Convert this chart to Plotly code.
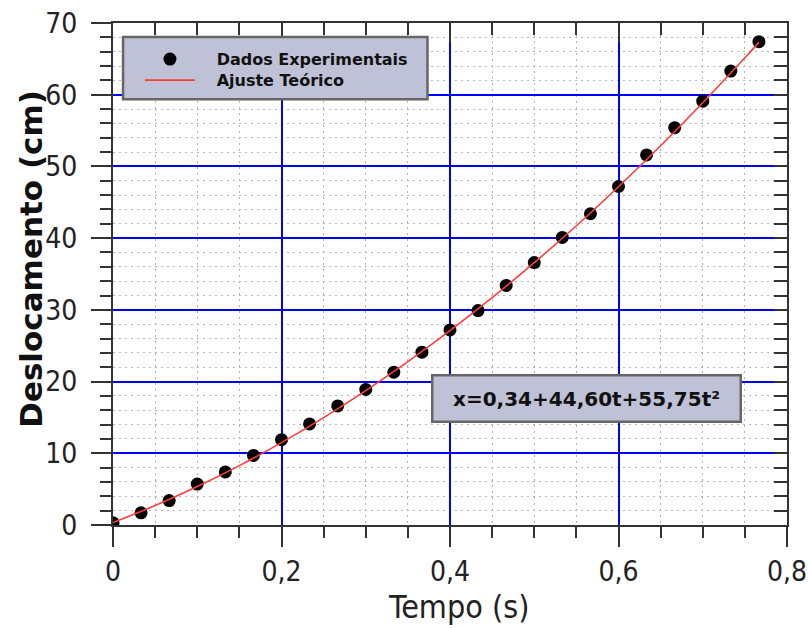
import plotly.graph_objects as go

# ---- data ----
t_data = [0.0, 0.0333, 0.0667, 0.1, 0.1333, 0.1667, 0.2, 0.2333, 0.2667, 0.3,
          0.3333, 0.3667, 0.4, 0.4333, 0.4667, 0.5, 0.5333, 0.5667, 0.6, 0.6333,
          0.6667, 0.7, 0.7333, 0.7667]
x_data = [0.3, 1.7, 3.4, 5.7, 7.4, 9.7, 11.9, 14.1, 16.6, 18.9,
          21.3, 24.1, 27.2, 29.9, 33.4, 36.6, 40.1, 43.4, 47.2, 51.6,
          55.4, 59.1, 63.3, 67.4]
t_fit = [0.0, 0.05, 0.1, 0.15, 0.2, 0.25, 0.3, 0.35, 0.4, 0.45, 0.5, 0.55,
         0.6, 0.65, 0.7, 0.75, 0.7667]
x_fit = [0.34, 2.71, 5.36, 8.28, 11.49, 14.97, 18.74, 22.78, 27.10, 31.70,
         36.58, 41.73, 47.17, 52.88, 58.88, 65.15, 67.30]

x_ticks = [0, 0.2, 0.4, 0.6, 0.8]
x_tick_labels = ["0", "0,2", "0,4", "0,6", "0,8"]
y_ticks = [0, 10, 20, 30, 40, 50, 60, 70]
y_tick_labels = ["0", "10", "20", "30", "40", "50", "60", "70"]

legend_names = ["\u00a0\u00a0\u00a0Dados Experimentais", "\u00a0\u00a0\u00a0Ajuste Teórico"]
equation_text = "x=0,34+44,60t+55,75t²"
x_title = "Tempo (s)"
y_title = "Deslocamento (cm)"

BOX_FILL = "#bfc1d6"
BOX_LINE = "#666666"
AX = "#333333"
TICK_FONT = dict(family="DejaVu Sans Condensed, DejaVu Sans", size=28, color="#222222")
MINOR_GRID = "#b4b4b4"
LEG_FONT = dict(family="DejaVu Sans", size=16, color="#111111", weight="bold")

fig = go.Figure()
fig.add_trace(go.Scatter(
    x=t_data, y=x_data, mode="markers", name=legend_names[0], legend="legend",
    marker=dict(color="black", size=13, line=dict(width=0)),
))
fig.add_trace(go.Scatter(
    x=t_fit, y=x_fit, mode="lines", name=legend_names[1], legend="legend2",
    line=dict(color="#ff3b3b", width=1.6, shape="spline"),
))
# invisible trace to activate mirrored (top/right) axes
fig.add_trace(go.Scatter(
    x=[0], y=[0], xaxis="x2", yaxis="y2", mode="markers",
    marker=dict(opacity=0), showlegend=False, hoverinfo="skip",
))

fig.update_layout(
    width=808, height=628,
    margin=dict(l=113, r=21, t=23, b=103),
    paper_bgcolor="white", plot_bgcolor="white",
    separators=",.",
    showlegend=True,
    legend=dict(
        x=0.040, y=0.928, xanchor="left", yanchor="middle",
        bgcolor="rgba(0,0,0,0)", borderwidth=0, font=LEG_FONT, itemwidth=50,
    ),
    legend2=dict(
        x=0.040, y=0.886, xanchor="left", yanchor="middle",
        bgcolor="rgba(0,0,0,0)", borderwidth=0, font=LEG_FONT, itemwidth=50,
    ),
    xaxis=dict(
        range=[0, 0.8], tickvals=x_ticks, ticktext=x_tick_labels, automargin=False,
        showgrid=True, gridcolor="#0000ff", gridwidth=1.7,
        zeroline=False, showline=True, linecolor=AX, linewidth=2,
        ticks="outside", ticklen=20, tickwidth=2, tickcolor=AX,
        tickfont=TICK_FONT, ticklabelstandoff=0, ticklabeloverflow="allow",
        minor=dict(dtick=0.05, tick0=0, ticks="outside", ticklen=11, tickwidth=2, tickcolor=AX,
                   showgrid=True, gridcolor=MINOR_GRID, gridwidth=1.4, griddash="2px,4px"),
    ),
    yaxis=dict(
        range=[0, 70], tickvals=y_ticks, ticktext=y_tick_labels, automargin=False,
        showgrid=True, gridcolor="#0000ff", gridwidth=1.7,
        zeroline=False, showline=True, linecolor=AX, linewidth=2,
        ticks="outside", ticklen=20, tickwidth=2, tickcolor=AX,
        tickfont=TICK_FONT, ticklabelstandoff=8, ticklabeloverflow="allow",
        minor=dict(dtick=2, tick0=0, ticks="outside", ticklen=11, tickwidth=2, tickcolor=AX,
                   showgrid=True, gridcolor=MINOR_GRID, gridwidth=1.4, griddash="2px,4px"),
    ),
    xaxis2=dict(
        overlaying="x", side="top", range=[0, 0.8], tickvals=x_ticks, automargin=False,
        showgrid=False, zeroline=False, showline=True, linecolor=AX, linewidth=2,
        ticks="inside", ticklen=19, tickwidth=2, tickcolor=AX, showticklabels=False,
        minor=dict(dtick=0.05, tick0=0, ticks="inside", ticklen=12, tickwidth=2, tickcolor=AX, showgrid=False),
    ),
    yaxis2=dict(
        overlaying="y", side="right", range=[0, 70], tickvals=y_ticks, automargin=False,
        showgrid=False, zeroline=False, showline=True, linecolor=AX, linewidth=2,
        ticks="inside", ticklen=13, tickwidth=2, tickcolor=AX, showticklabels=False,
        minor=dict(dtick=2, tick0=0, ticks="inside", ticklen=13, tickwidth=2, tickcolor=AX, showgrid=False),
    ),
    shapes=[
        dict(type="rect", xref="paper", yref="paper",
             x0=0.0149, x1=0.4666, y0=0.848, y1=0.972,
             fillcolor=BOX_FILL, line=dict(color=BOX_LINE, width=2.5), layer="above"),
    ],
    annotations=[
        dict(x=0.562, y=17.7, xref="x", yref="y", text=equation_text, showarrow=False,
             font=dict(family="DejaVu Sans", size=20, color="#111111", weight="bold"),
             bgcolor=BOX_FILL, bordercolor=BOX_LINE, borderwidth=2.5,
             width=304, height=42, xanchor="center", yanchor="middle"),
        dict(x=0.5126, y=-0.1633, xref="paper", yref="paper", text=x_title, showarrow=False,
             font=dict(family="DejaVu Sans Condensed, DejaVu Sans", size=32, color="#222222"),
             xanchor="center", yanchor="middle"),
        dict(x=-0.1218, y=0.530, xref="paper", yref="paper", text=y_title, showarrow=False,
             textangle=-90,
             font=dict(family="DejaVu Sans", size=31, color="#111111", weight="bold"),
             xanchor="center", yanchor="middle"),
    ],
)

fig.write_html("out.html")
